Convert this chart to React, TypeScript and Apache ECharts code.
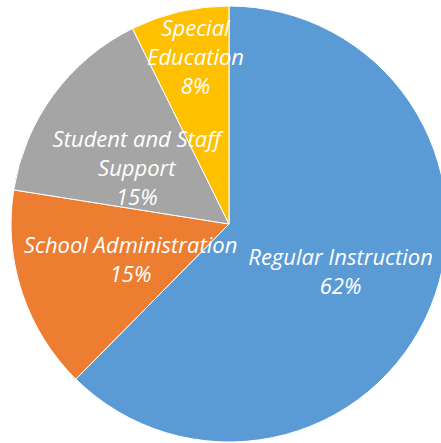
import React, { useEffect, useRef } from "react";
import * as echarts from "echarts";

const categories = ["Regular Instruction", "School Administration", "Student and Staff\nSupport", "Special\nEducation"];
const values = [62.4, 15.1, 15.2, 7.3];
const percentLabels = ["62%", "15%", "15%", "8%"];
const colors = ["#5B9BD5", "#ED7D31", "#A5A5A5", "#FFC000"];
const labelOffsets = [[8, 4], [8, 0], [-2, 9], [-8, -59]];

export default function App() {
  const ref = useRef<HTMLDivElement>(null);
  useEffect(() => {
    if (!ref.current) return;
    const chart = echarts.init(ref.current, undefined, { renderer: "svg" });
    chart.setOption({
      animation: false,
      backgroundColor: "#ffffff",
      series: [
        {
          type: "pie",
          center: [229, 224],
          radius: 218,
          startAngle: 90,
          clockwise: true,
          avoidLabelOverlap: false,
          itemStyle: { borderColor: "#ffffff", borderWidth: 1 },
          label: {
            show: true,
            position: "inside",
            color: "#ffffff",
            fontFamily: "Open Sans",
            fontStyle: "italic",
            fontSize: 22,
            lineHeight: 29,
            align: "center",
          },
          labelLine: { show: false },
          emphasis: { disabled: true },
          data: categories.map((name, i) => ({
            name,
            value: values[i],
            itemStyle: { color: colors[i] },
            label: { formatter: `${name}\n${percentLabels[i]}`, offset: labelOffsets[i] },
          })),
        },
      ],
    });
    return () => chart.dispose();
  }, []);
  return <div ref={ref} style={{ position: "fixed", left: 0, top: 0, width: 441, height: 443 }} />;
}
